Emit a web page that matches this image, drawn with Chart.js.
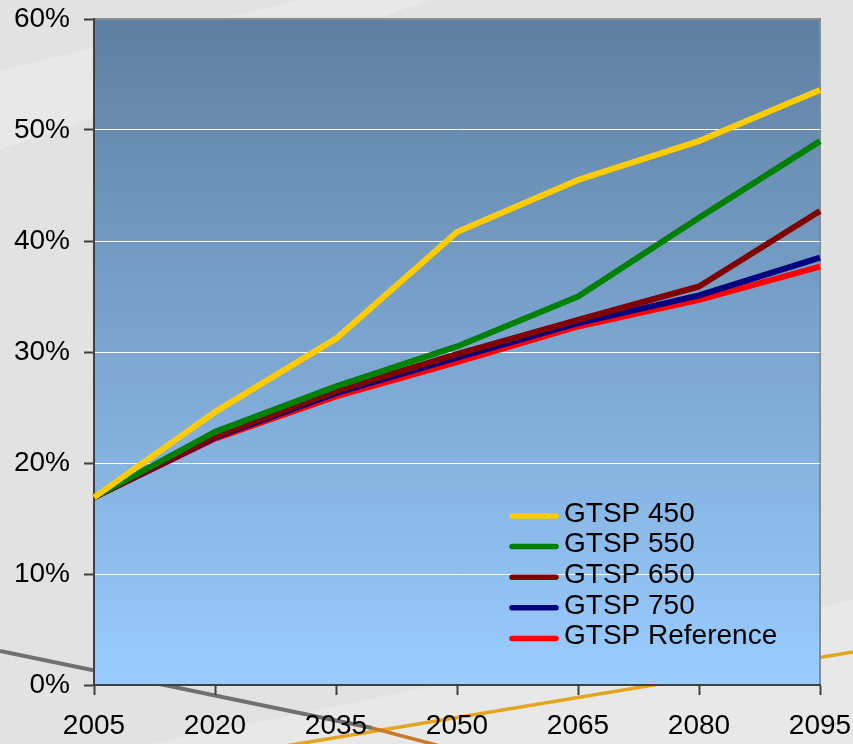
<!DOCTYPE html>
<html>
<head>
<meta charset="utf-8">
<script src="https://cdn.jsdelivr.net/npm/chart.js@4/dist/chart.umd.min.js"></script>
<style>
  html, body { margin: 0; padding: 0; background: #e4e4e4; }
  #wrap { position: relative; width: 853px; height: 744px; }
</style>
</head>
<body>
<div id="wrap"><canvas id="chart" width="853" height="744"></canvas></div>
<script>
const years = ["2005", "2020", "2035", "2050", "2065", "2080", "2095"];
const yTicks = [0, 10, 20, 30, 40, 50, 60];

const gtsp450 = [16.9, 24.6, 31.2, 40.8, 45.5, 49.0, 53.6];
const gtsp550 = [16.9, 22.8, 26.9, 30.5, 35.0, 42.1, 49.0];
const gtsp650 = [16.9, 22.4, 26.5, 29.8, 32.9, 35.9, 42.7];
const gtsp750 = [16.9, 22.3, 26.3, 29.5, 32.6, 35.1, 38.5];
const gtspRef = [16.9, 22.2, 26.0, 29.1, 32.3, 34.7, 37.7];

const FONT = "'Liberation Sans', Arial, sans-serif";

// page background with the slide decoration lines
const backdrop = {
    id: "backdrop",
    beforeDraw(chart) {
        const ctx = chart.ctx;
        const w = chart.width, h = chart.height;
        ctx.save();
        ctx.fillStyle = "#e2e2e2";
        ctx.fillRect(0, 0, w, h);
        // faint lighter bands
        ctx.fillStyle = "rgba(255,255,255,0.22)";
        ctx.beginPath();
        ctx.moveTo(0, 70); ctx.lineTo(300, 0); ctx.lineTo(430, 0); ctx.lineTo(0, 150);
        ctx.fill();
        ctx.beginPath();
        ctx.moveTo(150, 744); ctx.lineTo(853, 600); ctx.lineTo(853, 744);
        ctx.fill();
        // gray line
        ctx.lineWidth = 4;
        ctx.strokeStyle = "#707070";
        ctx.beginPath();
        ctx.moveTo(0, 651); ctx.lineTo(372, 728);
        ctx.stroke();
        // orange lines
        ctx.strokeStyle = "#e3a41e";
        ctx.lineWidth = 3.5;
        ctx.beginPath();
        ctx.moveTo(285, 746); ctx.lineTo(853, 652);
        ctx.stroke();
        ctx.strokeStyle = "#c8782a";
        ctx.beginPath();
        ctx.moveTo(372, 728); ctx.lineTo(440, 746);
        ctx.stroke();
        ctx.restore();
    }
};

// plot area gradient and frame
const plotBg = {
    id: "plotBg",
    beforeDraw(chart) {
        const { ctx, chartArea: a } = chart;
        ctx.save();
        const g = ctx.createLinearGradient(0, a.top, 0, a.bottom);
        g.addColorStop(0, "#5f7fa1");
        g.addColorStop(1, "#99ccff");
        ctx.fillStyle = g;
        ctx.fillRect(a.left, a.top, a.right - a.left, a.bottom - a.top);
        ctx.strokeStyle = "#8a8a8a";
        ctx.lineWidth = 2;
        ctx.beginPath();
        ctx.moveTo(a.left, a.top);
        ctx.lineTo(a.right, a.top);
        ctx.lineTo(a.right, a.bottom);
        ctx.stroke();
        ctx.restore();
    }
};

// legend inside the plot, lower right
const innerLegend = {
    id: "innerLegend",
    afterDraw(chart) {
        const { ctx, chartArea: a } = chart;
        const x0 = a.right - 310;
        const y0 = a.bottom - 169;
        ctx.save();
        ctx.font = "28px " + FONT;
        ctx.textBaseline = "middle";
        ctx.lineCap = "round";
        chart.data.datasets.forEach((ds, i) => {
            const y = y0 + i * 30.6;
            ctx.strokeStyle = ds.borderColor;
            ctx.lineWidth = 5.5;
            ctx.beginPath();
            ctx.moveTo(x0 + 2, y);
            ctx.lineTo(x0 + 46, y);
            ctx.stroke();
            ctx.fillStyle = "#000";
            ctx.fillText(ds.label, x0 + 54, y - 2);
        });
        ctx.restore();
    }
};

function series(label, data, color) {
    return {
        label: label,
        data: data,
        borderColor: color,
        backgroundColor: color,
        borderWidth: 6,
        pointRadius: 0,
        tension: 0,
        borderJoinStyle: "round"
    };
}

new Chart(document.getElementById("chart"), {
    type: "line",
    data: {
        labels: years,
        datasets: [
            series("GTSP 450", gtsp450, "#ffcc00"),
            series("GTSP 550", gtsp550, "#008000"),
            series("GTSP 650", gtsp650, "#800000"),
            series("GTSP 750", gtsp750, "#000080"),
            series("GTSP Reference", gtspRef, "#ff0000")
        ]
    },
    options: {
        responsive: false,
        animation: false,
        layout: { padding: 0 },
        plugins: {
            legend: { display: false },
            tooltip: { enabled: false }
        },
        scales: {
            x: {
                offset: false,
                afterFit(scale) {
                    scale.height = 59;
                    scale.paddingLeft = 0;
                    scale.paddingRight = 33;
                },
                grid: {
                    drawOnChartArea: false,
                    drawTicks: true,
                    tickLength: 10,
                    tickColor: "#404040",
                    tickWidth: 2
                },
                border: { color: "#404040", width: 2 },
                ticks: {
                    color: "#000",
                    font: { family: FONT, size: 28, lineHeight: 1 },
                    padding: 17,
                    maxRotation: 0,
                    autoSkip: false
                }
            },
            y: {
                min: 0,
                max: 60,
                afterBuildTicks(scale) {
                    scale.ticks = yTicks.map(v => ({ value: v }));
                },
                afterFit(scale) {
                    scale.width = 94;
                    scale.paddingTop = 19;
                    scale.paddingBottom = 0;
                },
                grid: {
                    color: ctx => (ctx.tick && (ctx.tick.value === 0 || ctx.tick.value === 60)) ? "rgba(0,0,0,0)" : "#ffffff",
                    lineWidth: 1,
                    tickLength: 10,
                    tickColor: "#404040",
                    tickWidth: 2
                },
                border: { color: "#404040", width: 2 },
                ticks: {
                    color: "#000",
                    font: { family: FONT, size: 28, lineHeight: 1 },
                    padding: 14,
                    callback: v => v + "%"
                }
            }
        }
    },
    plugins: [backdrop, plotBg, innerLegend]
});
</script>
</body>
</html>
